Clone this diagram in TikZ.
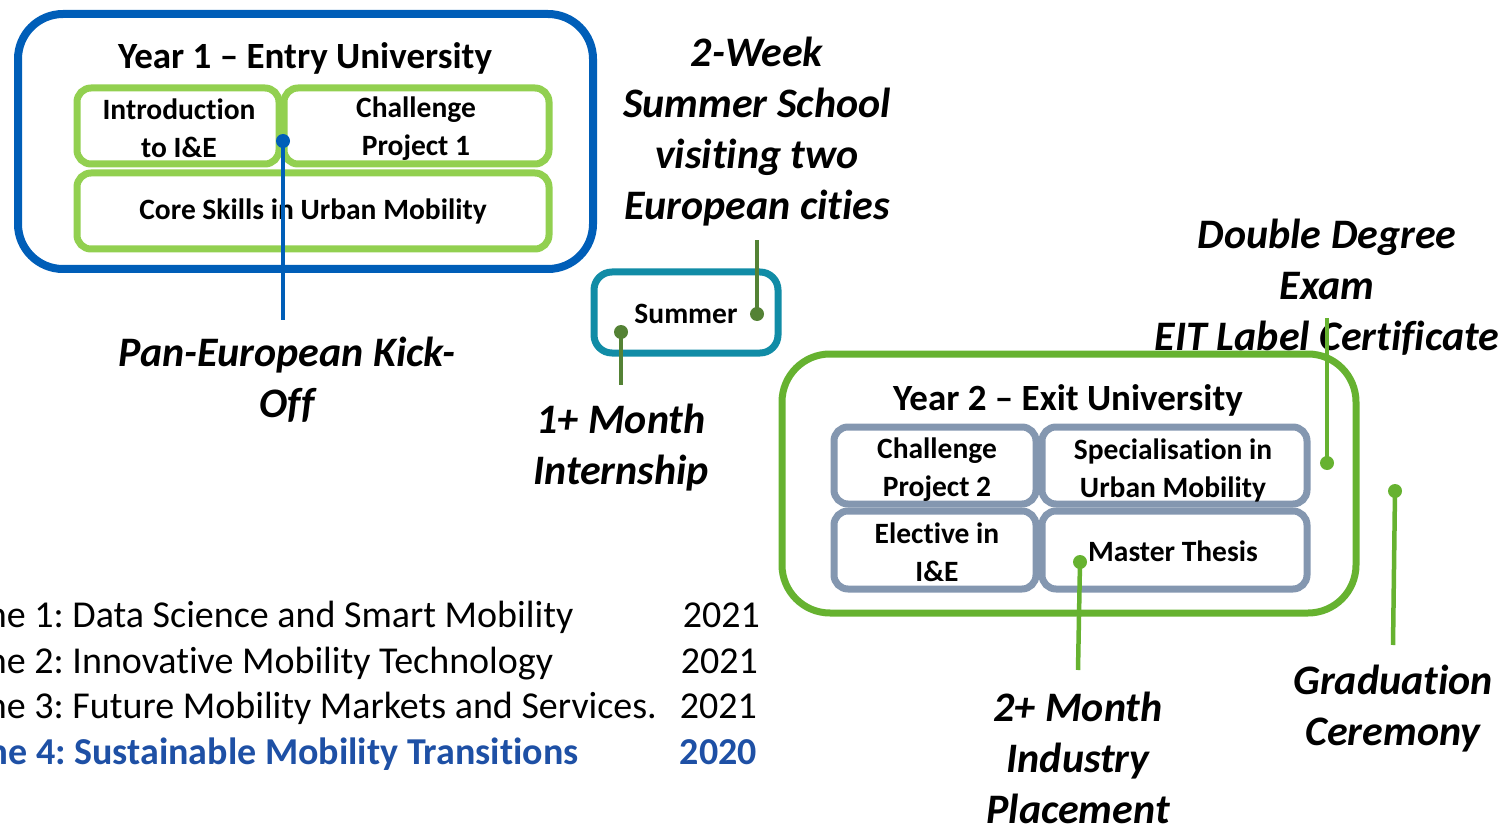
\documentclass[tikz,border=0pt]{standalone}
\usepackage{fontspec}
\setmainfont{Carlito}[Ligatures=NoCommon]
\frenchspacing
\definecolor{blueA}{RGB}{0,94,184}
\definecolor{lgreen}{RGB}{146,208,80}
\definecolor{teal}{RGB}{17,140,166}
\definecolor{dgreen}{RGB}{84,130,53}
\definecolor{greenB}{RGB}{102,178,48}
\definecolor{grayblue}{RGB}{132,151,176}
\definecolor{blueT}{RGB}{30,80,165}
\begin{document}
\begin{tikzpicture}[x=1pt,y=-1pt,
  boxtxt/.style={font=\fontsize{29.5}{38}\selectfont\bfseries, align=center, inner sep=0pt},
  lbl/.style={font=\fontsize{42}{51}\selectfont\bfseries\itshape, align=center, inner sep=0pt},
  head/.style={font=\fontsize{37}{40}\selectfont\bfseries, inner sep=0pt},
  listtxt/.style={font=\fontsize{38}{44}\selectfont, inner sep=0pt, anchor=base west},
  yr/.style={font=\fontsize{38}{44}\selectfont, inner sep=0pt, anchor=base east},
  dot/.style={circle, fill, inner sep=0pt, minimum size=14pt},
  outerbox/.style={line width=8pt, rounded corners=45pt},
  innerbox/.style={line width=7pt, rounded corners=14pt},
  conn/.style={line width=4.5pt}]
\useasboundingbox (0,0) rectangle (1504,826);
\clip (0,0) rectangle (1504,826);

% Year 1
\draw[blueA, outerbox] (18,14) rectangle (593,269);
\node[head] (h1) at (305,58) {Year 1 – Entry University};
\draw[lgreen, innerbox] (77,88) rectangle (279,164);
\draw[lgreen, innerbox] (284,88) rectangle (549,164);
\draw[lgreen, innerbox] (77,173) rectangle (549,249);
\node[boxtxt] (intro) at (179,128) {Introduction\\to I\&E};
\node[boxtxt] (cp1) at (416,129) {Challenge\\Project 1};
\node[boxtxt] (core) at (313,211) {Core Skills in Urban Mobility};

% Summer
\draw[teal, line width=7pt, rounded corners=18pt] (594,272) rectangle (778,353);
\node[boxtxt] (summer) at (686,314) {Summer};

% Year 2
\draw[greenB, line width=7pt, rounded corners=48pt] (782,354) rectangle (1356,613);
\node[head] (h2) at (1068,400) {Year 2 – Exit University};
\draw[grayblue, innerbox] (834,427) rectangle (1036,504);
\draw[grayblue, innerbox] (1042,427) rectangle (1307,504);
\draw[grayblue, innerbox] (834,511) rectangle (1036,589);
\draw[grayblue, innerbox] (1042,511) rectangle (1307,589);
\node[boxtxt] (cp2) at (937,470) {Challenge\\Project 2};
\node[boxtxt] (spec) at (1173,470) {Specialisation in\\Urban Mobility};
\node[boxtxt] (elec) at (937,552) {Elective in\\I\&E};
\node[boxtxt] (mt) at (1173,551) {Master Thesis};

% Labels
\node[lbl] (pan) at (287,380) {Pan-European Kick-\\Off};
\node[lbl] (week) at (757,132) {2-Week\\Summer School\\visiting two\\European cities};
\node[lbl] (intern) at (621,448) {1+ Month\\Internship};
\node[lbl] (place) at (1078,758) {2+ Month\\Industry\\Placement};
\node[lbl] (dd) at (1327,287) {Double Degree\\Exam\\EIT Label Certificate};
\node[lbl] (grad) at (1393,709) {Graduation\\Ceremony};

% Connectors
\node[dot, blueA] (d1) at (283,141) {};
\coordinate (e1) at (283,320);
\draw[blueA, conn] (d1.center) -- (e1);

\node[dot, dgreen] (d2) at (757,314) {};
\coordinate (e2) at (757,240);
\draw[dgreen, conn] (d2.center) -- (e2);

\node[dot, dgreen] (d3) at (621,332) {};
\coordinate (e3) at (621,385);
\draw[dgreen, conn] (d3.center) -- (e3);

\node[dot, greenB] (d4) at (1080,562) {};
\coordinate (e4) at (1078,670);
\draw[greenB, conn] (d4.center) -- (e4);

\node[dot, greenB] (d5) at (1327,463) {};
\coordinate (e5) at (1327,318);
\draw[greenB, conn] (d5.center) -- (e5);

\node[dot, greenB] (d6) at (1395,491) {};
\coordinate (e6) at (1393,645);
\draw[greenB, conn] (d6.center) -- (e6);

% Theme list
\node[listtxt] (t1) at (-81,627) {Theme 1: Data Science and Smart Mobility};
\node[listtxt] (t2) at (-81,673) {Theme 2: Innovative Mobility Technology};
\node[listtxt] (t3) at (-81,718) {Theme 3: Future Mobility Markets and Services.};
\node[listtxt, blueT, font=\fontsize{38}{44}\selectfont\bfseries] (t4) at (-81,764) {Theme 4: Sustainable Mobility Transitions};
\node[yr] (y1) at (760,627) {2021};
\node[yr] (y2) at (758,673) {2021};
\node[yr] (y3) at (757,718) {2021};
\node[yr, blueT, font=\fontsize{38}{44}\selectfont\bfseries] (y4) at (757,764) {2020};
\end{tikzpicture}
\end{document}
